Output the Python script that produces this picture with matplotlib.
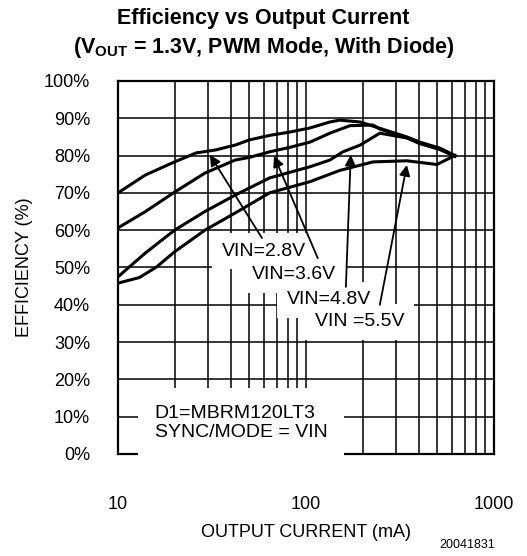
import numpy as np
import matplotlib.pyplot as plt
from matplotlib.ticker import FixedLocator, NullFormatter

plt.rcParams['font.family'] = ['Liberation Sans', 'DejaVu Sans']
plt.rcParams['mathtext.fontset'] = 'custom'
plt.rcParams['mathtext.rm'] = 'Liberation Sans'
plt.rcParams['mathtext.bf'] = 'Liberation Sans:bold'

# efficiency curves (mA, %)
i_28 = [10, 14, 20, 26, 33, 42, 50, 64, 82, 105, 134, 151, 194, 247, 344, 403, 515, 620]
eff_28 = [70, 74.8, 78.3, 80.7, 81.5, 82.8, 84.2, 85.4, 86.3, 87.4, 89, 89.5, 89, 87.3, 85, 83.6, 82, 80]

i_36 = [10, 14, 20, 29, 42, 50, 64, 82, 105, 134, 171, 227, 247, 344, 403, 515, 620]
eff_36 = [60.6, 65, 70.2, 75.3, 78.8, 79.5, 81, 82.2, 83.6, 86, 88, 88.2, 87.1, 84.8, 83.4, 81.8, 79.9]

i_48 = [10, 14, 20, 29, 42, 64, 105, 134, 157, 194, 247, 344, 403, 515, 620]
eff_48 = [47.5, 53.9, 60, 65, 69.4, 74, 77, 78.8, 81, 82.8, 86, 84.7, 83.2, 81.6, 79.8]

i_55 = [10, 13, 16, 20, 29, 42, 64, 105, 151, 227, 344, 496, 620]
eff_55 = [45.8, 47.3, 50.1, 54.2, 60, 64.6, 70, 73, 76, 78.3, 78.6, 77.6, 80]

# annotation labels, arrow tips and tails
labels = ['VIN=2.8V', 'VIN=3.6V', 'VIN=4.8V', 'VIN =5.5V']
label_pos = [(35.7, 54.4), (51.6, 48), (79.1, 41.3), (111.5, 35.4)]
arrow_tip = [(30.8, 80.2), (67.6, 79.9), (173, 80.2), (344, 77.5)]
arrow_tail = [(58.3, 57.9), (115.5, 52.5), (163, 44.8), (247, 40)]

fig = plt.figure(figsize=(5.27, 5.56), dpi=100)
ax = fig.add_axes([0.2239, 0.1835, 0.7135, 0.6709])

ax.set_xscale('log')
ax.set_xlim(10, 1000)
ax.set_ylim(0, 100)

for xs, ys in [(i_28, eff_28), (i_36, eff_36), (i_48, eff_48), (i_55, eff_55)]:
    ax.plot(xs, ys, color='black', lw=2.2, zorder=3, solid_joinstyle='round')

ax.set_yticks(np.arange(0, 101, 10))
ax.set_yticklabels([f'{v}%' for v in range(0, 101, 10)])
ax.set_xticks([10, 100, 1000])
ax.set_xticklabels(['10', '100', '1000'])
ax.xaxis.set_minor_locator(FixedLocator([m * d for d in (10, 100) for m in range(2, 10)]))
ax.xaxis.set_minor_formatter(NullFormatter())
ax.tick_params(which='both', length=0, labelsize=13)
ax.tick_params(axis='x', pad=30)
ax.tick_params(axis='y', pad=20)
ax.grid(which='both', color='black', lw=1.1, zorder=1)
ax.set_axisbelow(True)
for s in ax.spines.values():
    s.set_linewidth(1.6)

box = dict(facecolor='white', edgecolor='none', pad=7)
for lab, pos in zip(labels, label_pos):
    ax.text(pos[0], pos[1], lab, fontsize=14, ha='left', va='center', bbox=box, zorder=4)
for tip, tail in zip(arrow_tip, arrow_tail):
    ax.annotate('', xy=tip, xytext=tail,
                arrowprops=dict(arrowstyle='-|>', color='black', lw=1.3,
                                mutation_scale=16, shrinkA=0, shrinkB=0),
                zorder=5)

ax.text(15.7, 8.3, 'D1=MBRM120LT3\nSYNC/MODE = VIN', fontsize=14, ha='left', va='center',
        linespacing=1.15, bbox=dict(facecolor='white', edgecolor='none', pad=12), zorder=4)

ax.set_xlabel('OUTPUT CURRENT (mA)', fontsize=13, labelpad=8)
ax.set_ylabel('EFFICIENCY (%)', fontsize=13, labelpad=8)

fig.text(0.5, 0.967, 'Efficiency vs Output Current', fontsize=15.5, fontweight='bold',
         ha='center', va='center')
fig.text(0.5, 0.915, r'(V$_{\mathbf{OUT}}$ = 1.3V, PWM Mode, With Diode)', fontsize=15.5,
         fontweight='bold', ha='center', va='center')
fig.text(0.94, 0.02, '20041831', fontsize=9, ha='right', va='center')

fig.savefig('out.png', dpi=100)
